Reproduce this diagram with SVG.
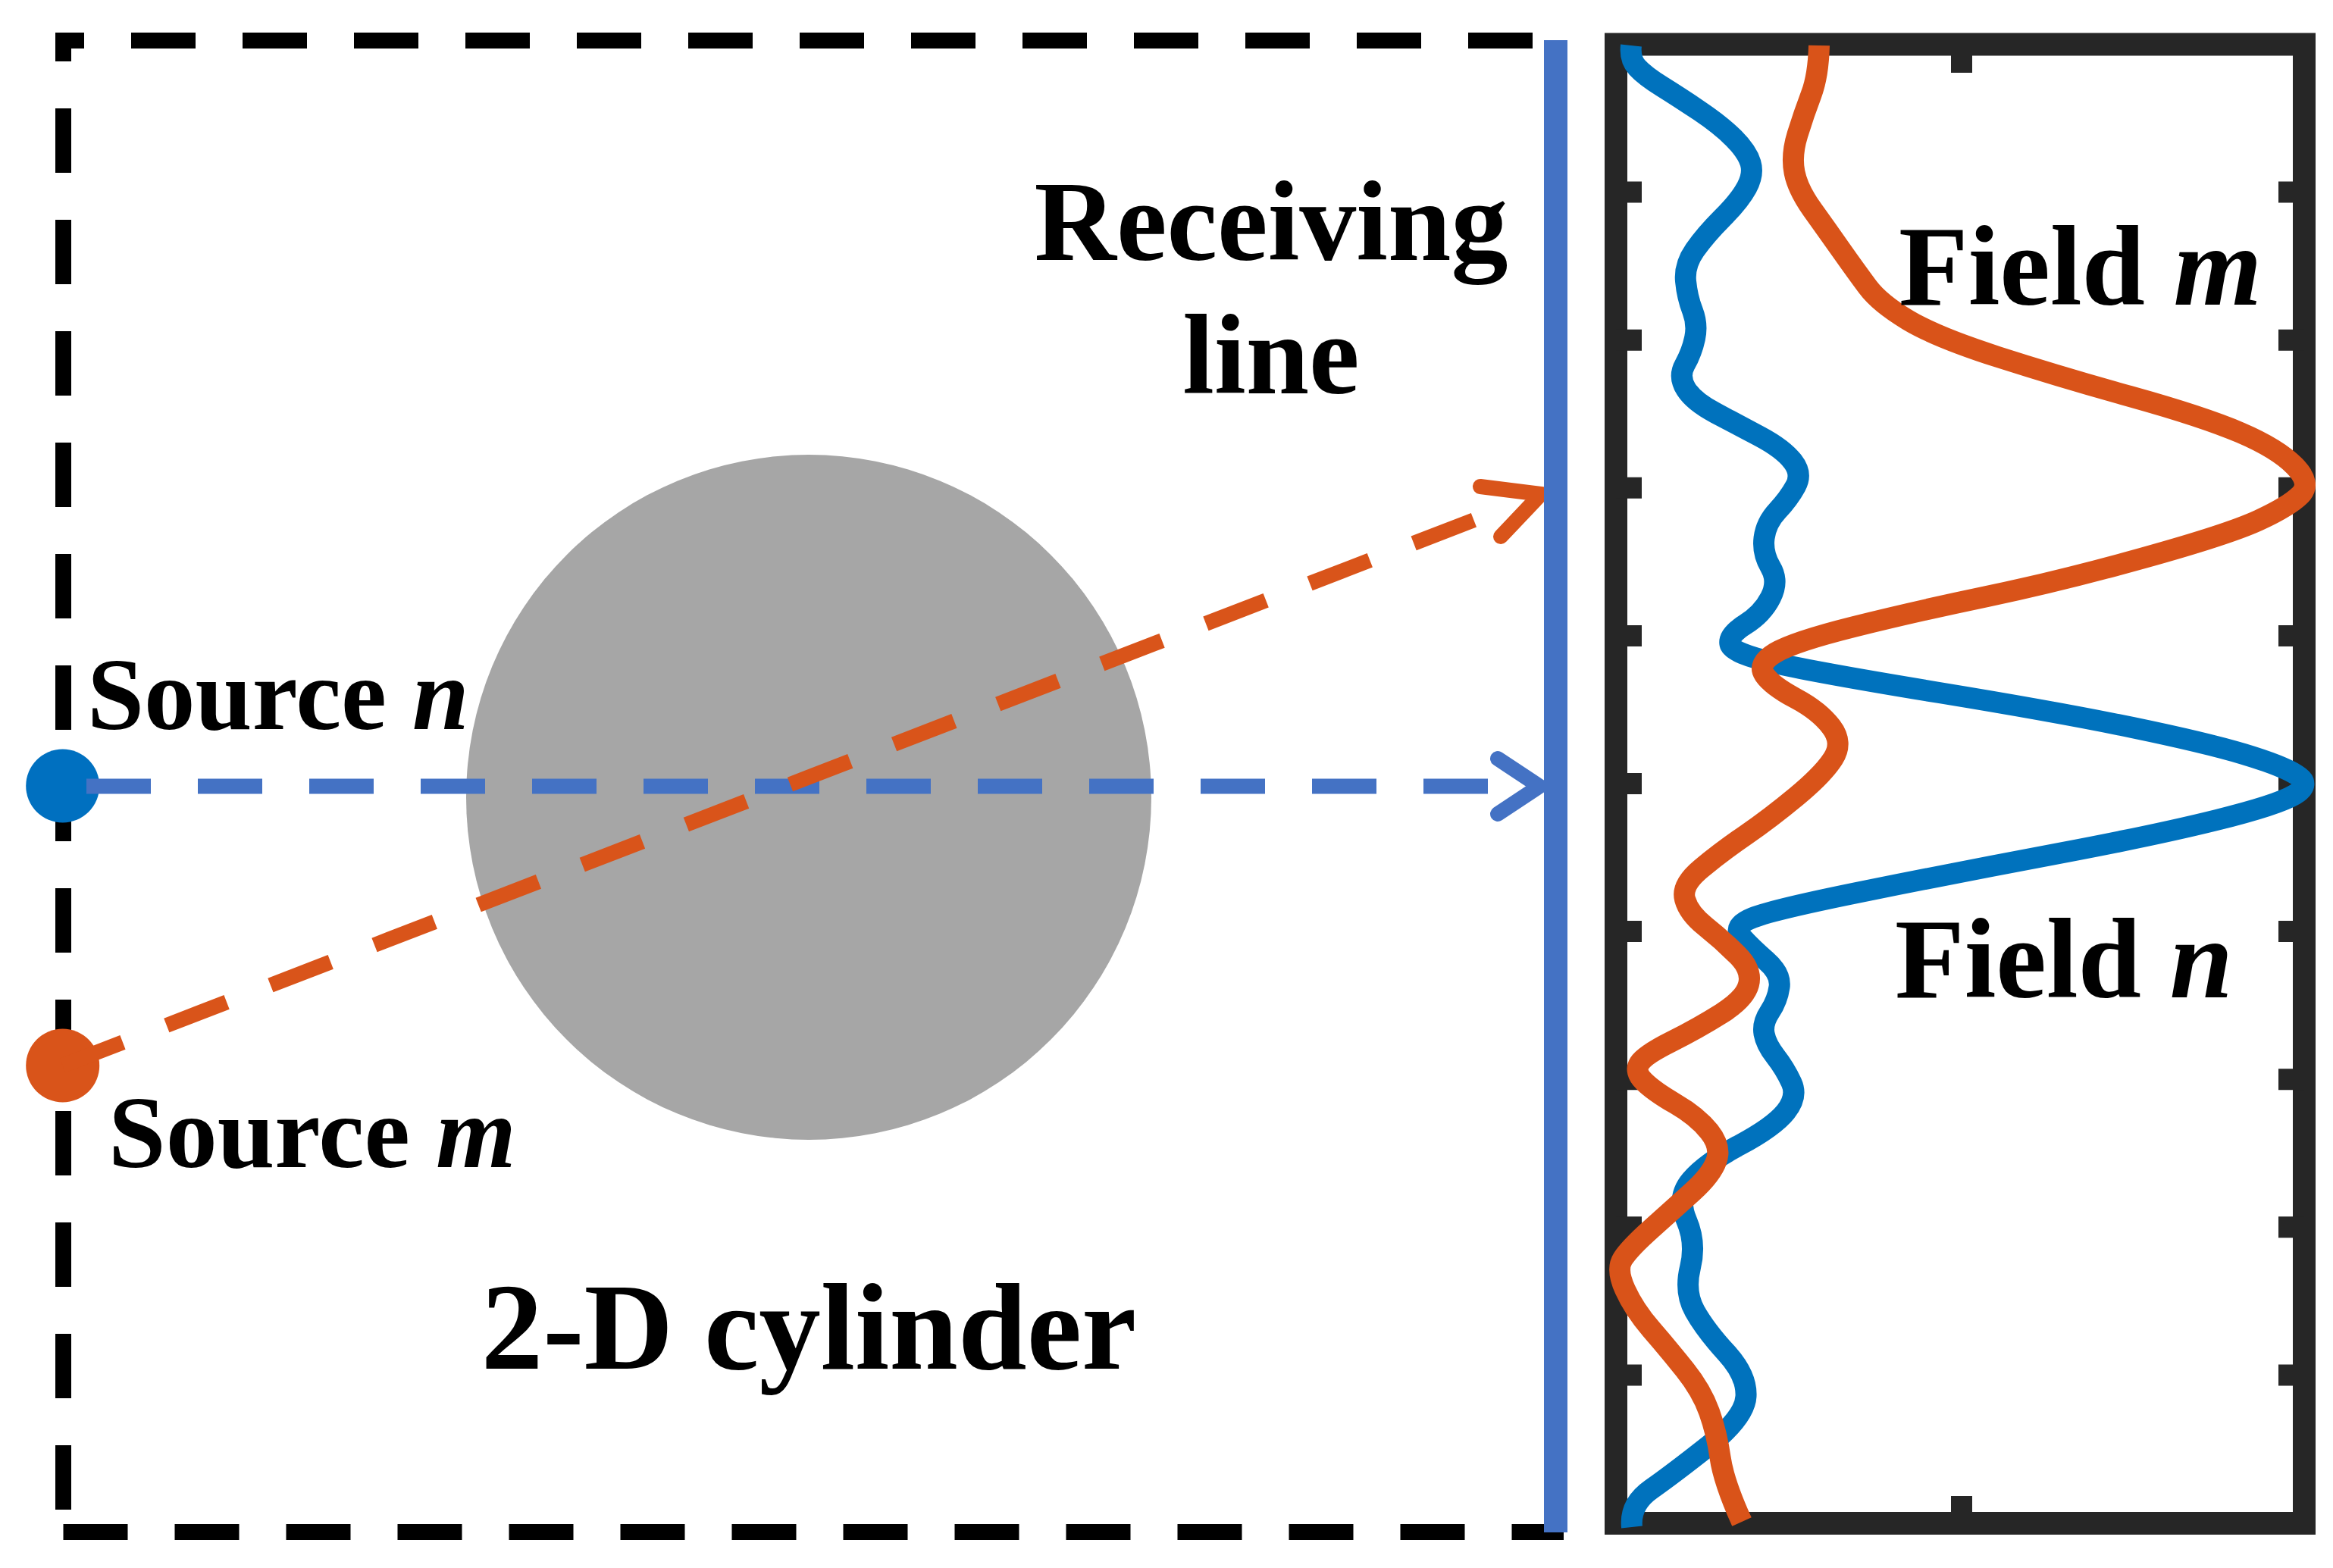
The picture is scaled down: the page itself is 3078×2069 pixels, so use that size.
<svg xmlns="http://www.w3.org/2000/svg" width="3078" height="2069" viewBox="0 0 3078 2069">
<style>
.t{font-family:"Liberation Serif","Times New Roman",serif;font-weight:bold;fill:#000}
.it{font-style:italic}
.border{stroke:#000;stroke-width:21;fill:none;stroke-dasharray:85 62}
.ray{fill:none;stroke-width:20;stroke-dasharray:85 62}
.head{fill:none;stroke-width:20;stroke-linecap:round;stroke-linejoin:miter}
.tick{stroke:#262626;stroke-width:28}
.curve{fill:none;stroke-width:28;stroke-linecap:butt;stroke-linejoin:round}
</style>
<rect width="3078" height="2069" fill="#fff"/>
<g id="cylinder">
<circle cx="1067" cy="1052" r="452" fill="#A6A6A6"/>
<text class="t" x="1067" y="1806" font-size="163" text-anchor="middle">2-D cylinder</text>
</g>
<g id="domain">
<line class="border" x1="73" y1="53.5" x2="2030" y2="53.5" stroke-dashoffset="47"/>
<line class="border" x1="83.5" y1="43" x2="83.5" y2="2021.5" stroke-dashoffset="47"/>
<line class="border" x1="83.5" y1="2021.5" x2="2063" y2="2021.5"/>
</g>
<g id="source-n">
<circle cx="82.7" cy="1037" r="48.5" fill="#0070C0"/>
<text class="t" x="115" y="962" font-size="135">Source <tspan class="it">n</tspan></text>
</g>
<g id="source-m">
<circle cx="82.7" cy="1406" r="48.5" fill="#D9541A"/>
<text class="t" x="143" y="1540" font-size="136">Source <tspan class="it">m</tspan></text>
</g>
<g id="connectors">
<line class="ray" x1="114" y1="1037.5" x2="2000" y2="1037.5" stroke="#4472C4"/>
<polyline class="head" points="1976,1001 2031,1037.5 1976,1074" stroke="#4472C4"/>
<line class="ray" x1="82.7" y1="1406" x2="2000" y2="664.8" stroke="#D9541A"/>
<polyline class="head" points="1953,642 2033,652 1980,708" stroke="#D9541A"/>
</g>
<g id="receiving-line">
<line x1="2052.5" y1="53" x2="2052.5" y2="2022" stroke="#4472C4" stroke-width="31"/>
<text class="t" x="1677" y="343" font-size="150" text-anchor="middle">Receiving</text>
<text class="t" x="1677" y="519" font-size="150" text-anchor="middle">line</text>
</g>
<g id="field-plot">
<rect x="2132" y="58.5" width="908" height="1951.5" fill="none" stroke="#262626" stroke-width="30"/>
<g class="ticks">
<line class="tick" x1="2132" y1="253.6" x2="2166" y2="253.6"/>
<line class="tick" x1="2132" y1="448.7" x2="2166" y2="448.7"/>
<line class="tick" x1="2132" y1="643.8" x2="2166" y2="643.8"/>
<line class="tick" x1="2132" y1="838.9" x2="2166" y2="838.9"/>
<line class="tick" x1="2132" y1="1034" x2="2166" y2="1034"/>
<line class="tick" x1="2132" y1="1229.1" x2="2166" y2="1229.1"/>
<line class="tick" x1="2132" y1="1424.2" x2="2166" y2="1424.2"/>
<line class="tick" x1="2132" y1="1619.3" x2="2166" y2="1619.3"/>
<line class="tick" x1="2132" y1="1814.4" x2="2166" y2="1814.4"/>
<line class="tick" x1="3006" y1="253.6" x2="3040" y2="253.6"/>
<line class="tick" x1="3006" y1="448.7" x2="3040" y2="448.7"/>
<line class="tick" x1="3006" y1="643.8" x2="3040" y2="643.8"/>
<line class="tick" x1="3006" y1="838.9" x2="3040" y2="838.9"/>
<line class="tick" x1="3006" y1="1034" x2="3040" y2="1034"/>
<line class="tick" x1="3006" y1="1229.1" x2="3040" y2="1229.1"/>
<line class="tick" x1="3006" y1="1424.2" x2="3040" y2="1424.2"/>
<line class="tick" x1="3006" y1="1619.3" x2="3040" y2="1619.3"/>
<line class="tick" x1="3006" y1="1814.4" x2="3040" y2="1814.4"/>
<line class="tick" x1="2588" y1="58.5" x2="2588" y2="96" stroke-width="30"/>
<line class="tick" x1="2588" y1="2010" x2="2588" y2="1974" stroke-width="30"/>
</g>
<path id="field-n-curve" class="curve" stroke="#0072BD" d="M2152,60 Q2150,78 2160,89 Q2170,100 2192.5,114 Q2215,128 2242.5,146.5 Q2270,165 2287.5,182.5 Q2305,200 2309.5,215 Q2314,230 2304.5,247.5 Q2295,265 2272.5,287.5 Q2250,310 2236,330 Q2222,350 2224,371 Q2226,392 2233,410 Q2240,428 2236,446.5 Q2232,465 2223,481 Q2214,497 2224.5,513.5 Q2235,530 2263.5,545 Q2292,560 2322,576 Q2352,592 2365,608.5 Q2378,625 2369,641.5 Q2360,658 2345,674 Q2330,690 2327.5,710 Q2325,730 2336,748.5 Q2347,767 2336,788.5 Q2325,810 2302.5,824 Q2280,838 2282.5,850 Q2285,862 2342.5,875 Q2400,888 2558.5,914 Q2717,940 2813.5,960 Q2910,980 2960,995 Q3010,1010 3030,1022.5 Q3050,1035 3027.5,1048.5 Q3005,1062 2924.5,1082 Q2844,1102 2716.5,1126 Q2589,1150 2464.5,1175 Q2340,1200 2312.5,1211 Q2285,1222 2297.5,1236 Q2310,1250 2330,1267.5 Q2350,1285 2347.5,1302.5 Q2345,1320 2335,1335 Q2325,1350 2327.5,1364 Q2330,1378 2342.5,1394 Q2355,1410 2363.5,1428.5 Q2372,1447 2356,1467 Q2340,1487 2295,1511 Q2250,1535 2231,1557.5 Q2212,1580 2225,1610 Q2238,1640 2230,1672.5 Q2222,1705 2236,1730 Q2250,1755 2277.5,1785 Q2305,1815 2303.5,1842.5 Q2302,1870 2254.5,1907.5 Q2207,1945 2178.5,1965 Q2150,1985 2153,2015"/>
<path id="field-m-curve" class="curve" stroke="#D95319" d="M2400,60 Q2399,100 2389.5,125 Q2380,150 2371.5,177.5 Q2363,205 2367.5,227.5 Q2372,250 2391,276.5 Q2410,303 2429,330 Q2448,357 2464,378.5 Q2480,400 2517.5,422.5 Q2555,445 2636,471 Q2717,497 2812,523.5 Q2907,550 2956,571 Q3005,592 3027.5,615 Q3050,638 3035,653 Q3020,668 2980,686.5 Q2940,705 2828.5,736 Q2717,767 2621.5,787 Q2526,807 2446,827 Q2366,847 2342,861.5 Q2318,876 2328,890.5 Q2338,905 2369,921.5 Q2400,938 2416,959 Q2432,980 2418.5,1001 Q2405,1022 2370,1051 Q2335,1080 2303,1102 Q2271,1124 2244.5,1146 Q2218,1168 2223,1186.5 Q2228,1205 2250,1222.5 Q2272,1240 2292,1260 Q2312,1280 2307,1299 Q2302,1318 2271,1337.5 Q2240,1357 2205,1374.5 Q2170,1392 2163,1403 Q2156,1414 2169,1427 Q2182,1440 2210.5,1456.5 Q2239,1473 2255,1493 Q2271,1513 2264.5,1531.5 Q2258,1550 2232.5,1573 Q2207,1596 2178.5,1621.5 Q2150,1647 2141,1661 Q2132,1675 2144,1701.5 Q2156,1728 2178.5,1754 Q2201,1780 2223,1807.5 Q2245,1835 2255,1863 Q2265,1891 2269.5,1923 Q2274,1955 2298,2008"/>
<text class="t" x="2505" y="402" font-size="150">Field <tspan class="it">m</tspan></text>
<text class="t" x="2500" y="1316" font-size="150">Field <tspan class="it">n</tspan></text>
</g>
</svg>
